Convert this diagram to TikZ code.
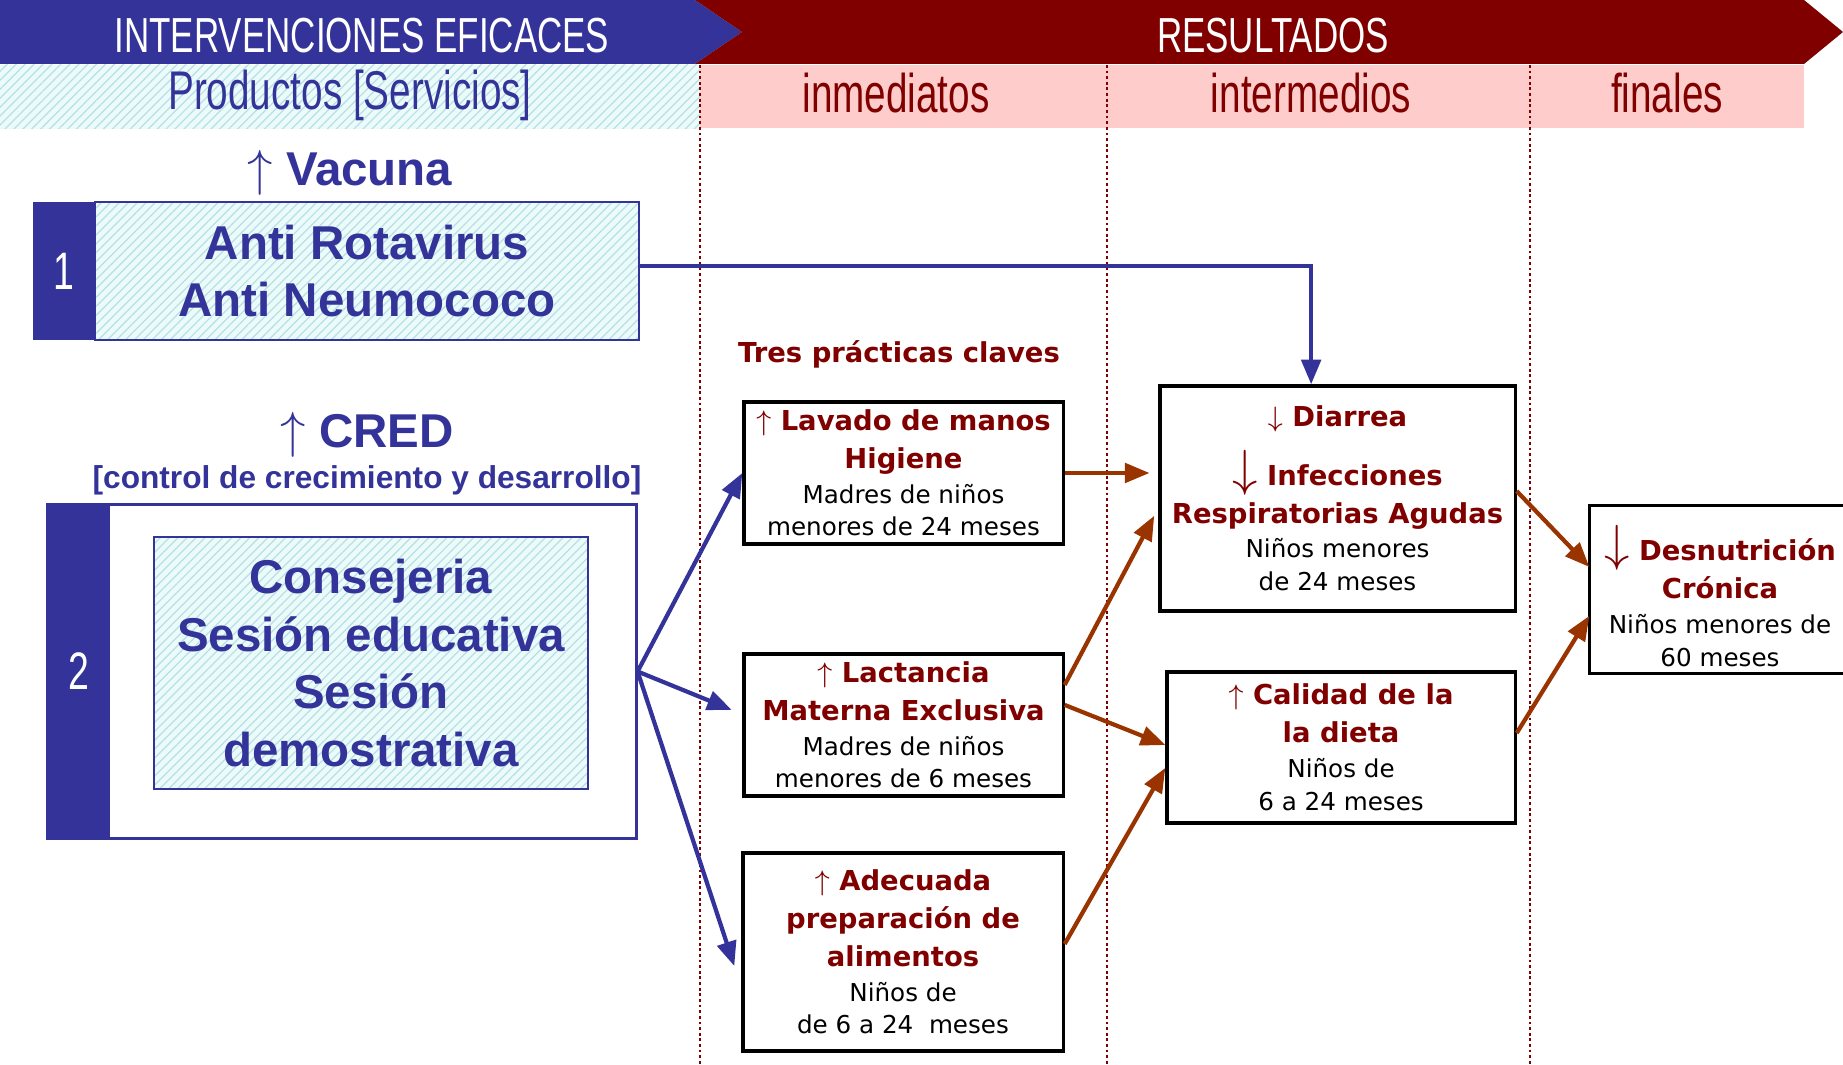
\documentclass[tikz,border=0pt]{standalone}
\usepackage{fontspec}
\usetikzlibrary{arrows.meta,patterns.meta}
\setmainfont{Liberation Sans}
\newfontfamily\condfont[FakeStretch=0.71]{Liberation Sans}
\newfontfamily\comicfont{DejaVu Sans}
\definecolor{hdblue}{RGB}{51,51,153}
\definecolor{hdred}{RGB}{128,0,0}
\definecolor{bandpink}{RGB}{255,204,204}
\definecolor{arrbrown}{RGB}{153,51,0}
\definecolor{hatchbg}{RGB}{236,250,250}
\definecolor{hatchln}{RGB}{180,225,230}
\newcommand{\redtl}[1]{{\fontsize{7.8}{10.8}\selectfont\bfseries\color{hdred}#1}}
\begin{document}
\begin{tikzpicture}[x=0.01cm,y=-0.01cm,
  hatch/.style={preaction={fill=hatchbg},preaction={pattern={Lines[angle=45,distance=1.8pt,line width=0.35pt]},pattern color=hatchln}},
  hatchbox/.style={hatch,draw=hdblue,line width=0.7pt,inner sep=0pt,align=center,text=hdblue,
    font=\bfseries\fontsize{13.5}{16.4}\selectfont},
  numbox/.style={fill=hdblue,inner sep=0pt,text=white,font=\condfont\fontsize{15}{15}\selectfont},
  practbox/.style={draw=black,line width=0.9pt,fill=white,inner sep=0pt,align=center,
    font=\comicfont\fontsize{7}{9.3}\selectfont},
  colline/.style={hdred,line width=0.8pt,dash pattern=on 0.8pt off 0.8pt},
  bluearr/.style={draw=hdblue,line width=1.2pt,-{Triangle[length=7pt,width=5.5pt]}},
  brownarr/.style={draw=arrbrown,line width=1.2pt,-{Triangle[length=7pt,width=5.5pt]}}]
  \useasboundingbox (0,0) rectangle (1843,1065);
  % Header bars
  \fill[hdblue] (0,0) -- (695,0) -- (742,32) -- (695,64) -- (0,64) -- cycle;
  \fill[hdred] (695,0) -- (1804,0) -- (1843,32) -- (1804,64) -- (695,64) -- (742,32) -- cycle;
  \path[hatch] (0,65) rectangle (700,129);
  \fill[bandpink] (700,65) rectangle (1804,128);
  \node[text=white,font=\condfont\fontsize{14}{14}\selectfont] (hint) at (362,36) {INTERVENCIONES EFICACES};
  \node[text=white,font=\condfont\fontsize{14}{14}\selectfont] (hres) at (1273,36) {RESULTADOS};
  \node[text=hdblue,font=\condfont\fontsize{15.5}{15.5}\selectfont] (hprod) at (350,95) {Productos [Servicios]};
  \node[text=hdred,font=\condfont\fontsize{15.5}{15.5}\selectfont] (hinm) at (896,93) {inmediatos};
  \node[text=hdred,font=\condfont\fontsize{15.5}{15.5}\selectfont] (hmid) at (1311,93) {intermedios};
  \node[text=hdred,font=\condfont\fontsize{15.5}{15.5}\selectfont] (hfin) at (1667,93) {finales};
  % Column lines
  \draw[colline] (700,65) -- (700,1065);
  \draw[colline] (1107,65) -- (1107,1065);
  \draw[colline] (1530,65) -- (1530,1065);
  % Intervention 1
  \node[text=hdblue,font=\bfseries\fontsize{13.5}{16}\selectfont] (tvac) at (350,173) {$\uparrow$ Vacuna};
  \node[hatchbox,minimum width=5.44cm,minimum height=1.38cm] (vac) at (367,271) {Anti Rotavirus\\Anti Neumococo};
  \node[numbox,minimum width=0.62cm,minimum height=1.38cm] (n1) at (64,271) {1};
  % Intervention 2
  \node[text=hdblue,font=\bfseries\fontsize{13.5}{16}\selectfont] (tcred) at (367,435) {$\uparrow$ CRED};
  \node[text=hdblue,font=\bfseries\fontsize{9}{11}\selectfont] (scred) at (367,480) {[control de crecimiento y desarrollo]};
  \node[draw=hdblue,line width=0.8pt,fill=white,minimum width=5.88cm,minimum height=3.33cm] (cred) at (342,671.5) {};
  \node[numbox,minimum width=0.62cm,minimum height=3.33cm] (n2) at (79,671.5) {2};
  \node[hatchbox,minimum width=4.34cm,minimum height=2.52cm] (cons) at (371,663) {Consejeria\\Sesión educativa\\Sesión\\demostrativa};
  % Immediate results
  \node[font=\comicfont\bfseries\fontsize{7.8}{10}\selectfont,text=hdred] (tres) at (899,354) {Tres prácticas claves};
  \node[practbox,minimum width=3.19cm,minimum height=1.42cm] (lav) at (903.5,473)
    {\redtl{$\uparrow$ Lavado de manos}\\[1.5pt] \redtl{Higiene}\\[0.6pt] Madres de niños\\ menores de 24 meses};
  \node[practbox,minimum width=3.19cm,minimum height=1.42cm] (lac) at (903.5,725)
    {\redtl{$\uparrow$ Lactancia}\\[1.5pt] \redtl{Materna Exclusiva}\\[0.6pt] Madres de niños\\ menores de 6 meses};
  \node[practbox,minimum width=3.20cm,minimum height=1.98cm] (ad) at (903,952)
    {\redtl{$\uparrow$ Adecuada}\\[1.5pt] \redtl{preparación de}\\[1.5pt] \redtl{alimentos}\\[0.6pt] Niños de\\ de 6 a 24\ \ meses};
  % Intermediate results
  \node[practbox,minimum width=3.55cm,minimum height=2.25cm] (diar) at (1337.5,498.5)
    {\redtl{$\downarrow$ Diarrea}\\[4pt] \redtl{{\Large$\downarrow$} Infecciones}\\[1.5pt] \redtl{Respiratorias Agudas}\\[0.6pt] Niños menores\\ de 24 meses};
  \node[practbox,minimum width=3.48cm,minimum height=1.51cm] (cal) at (1341,747.5)
    {\redtl{$\uparrow$ Calidad de la}\\[1.5pt] \redtl{la dieta}\\[0.6pt] Niños de\\ 6 a 24 meses};
  % Final result (box runs off the page)
  \node[practbox,draw=none,minimum width=2.85cm,minimum height=1.65cm] (desn) at (1733.5,589.5) {};
  \draw[line width=0.9pt] (desn.north east) -- (desn.north west) -- (desn.south west) -- (desn.south east);
  \node[practbox,draw=none,fill=none] (desnt) at (1720,596)
    {\redtl{{\Large$\downarrow$} Desnutrición}\\[1.5pt] \redtl{Crónica}\\[0.6pt] Niños menores de\\ 60 meses};
  % Blue arrows
  \draw[bluearr] ([yshift=1.4pt]vac.east) -| ([xshift=-7.5pt]diar.north);
  \draw[bluearr] (cred.east) -- (lav.west);
  \draw[bluearr] (cred.east) -- ([xshift=-3pt,yshift=4.3pt]lac.west);
  \draw[bluearr] (cred.east) -- ([xshift=-2pt,yshift=-4pt]ad.west);
  % Brown arrows
  \draw[brownarr,shorten >=2.5pt] (lav.east) -- (lav.east -| diar.west);
  \draw[brownarr,shorten >=2.5pt] ([yshift=11.4pt]lac.east) -- ([yshift=-2.7pt]diar.west);
  \draw[brownarr] ([yshift=5.7pt]lac.east) -- ([yshift=0.7pt]cal.west);
  \draw[brownarr] ([yshift=2.3pt]ad.east) -- ([yshift=-5.8pt]cal.west);
  \draw[brownarr] ([yshift=2.1pt]diar.east) -- ([yshift=6.4pt]desn.west);
  \draw[brownarr] ([yshift=4.1pt]cal.east) -- ([yshift=-7.5pt]desn.west);
\end{tikzpicture}
\end{document}
